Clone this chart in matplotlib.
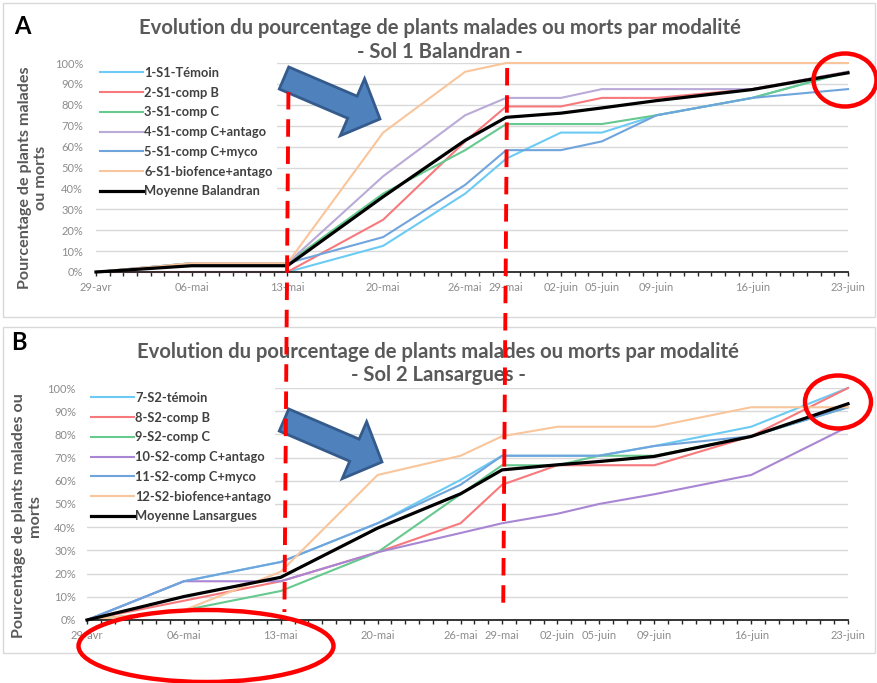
# Evolution du pourcentage de plants malades ou morts - Sol 1 / Sol 2
import matplotlib
matplotlib.use('Agg')
import matplotlib.pyplot as plt
import matplotlib.dates as mdates
from matplotlib.patches import FancyArrow, Ellipse, Rectangle
from matplotlib.ticker import PercentFormatter
import pandas as pd

dates = pd.to_datetime(['2019-04-29', '2019-05-06', '2019-05-13', '2019-05-20', '2019-05-26',
                        '2019-05-29', '2019-06-02', '2019-06-05', '2019-06-09', '2019-06-16',
                        '2019-06-23'])
date_labels = ['29-avr', '06-mai', '13-mai', '20-mai', '26-mai', '29-mai',
               '02-juin', '05-juin', '09-juin', '16-juin', '23-juin']

# Sol 1 Balandran (%)
s1_temoin = [0, 0, 0, 12.5, 37.5, 54.2, 66.7, 66.7, 75, 83.3, 95.8]
s1_compB = [0, 0, 0, 25, 62.5, 79.2, 79.2, 83.3, 83.3, 87.5, 95.8]
s1_compC = [0, 4.2, 4.2, 37.5, 58.3, 70.8, 70.8, 70.8, 75, 83.3, 95.8]
s1_antago = [0, 4.2, 4.2, 45.8, 75, 83.3, 83.3, 87.5, 87.5, 87.5, 95.8]
s1_myco = [0, 4.2, 4.2, 16.7, 41.7, 58.3, 58.3, 62.5, 75, 83.3, 87.5]
s1_biofence = [0, 4.2, 4.2, 66.7, 95.8, 100, 100, 100, 100, 100, 100]
s1_moyenne = [0, 3, 3, 36, 63, 74, 76, 78.5, 82, 87.3, 95.3]

# Sol 2 Lansargues (%)
s2_temoin = [0, 16.7, 25, 41.7, 60.4, 70.8, 70.8, 70.8, 75, 83.3, 100]
s2_compB = [0, 8.3, 16.7, 29.2, 41.7, 58.3, 66.7, 66.7, 66.7, 79.2, 100]
s2_compC = [0, 4.2, 12.5, 29.2, 54.2, 66.7, 66.7, 70.8, 70.8, 79.2, 91.7]
s2_antago = [0, 16.7, 16.7, 29.2, 37.5, 41.7, 45.8, 50, 54.2, 62.5, 83.3]
s2_myco = [0, 16.7, 25, 41.7, 58.3, 70.8, 70.8, 70.8, 75, 79.2, 91.7]
s2_biofence = [0, 4.2, 20.8, 62.5, 70.8, 79.2, 83.3, 83.3, 83.3, 91.7, 91.7]
s2_moyenne = [0, 10.1, 18.4, 39.6, 54.4, 64.7, 66.9, 68.3, 70.5, 79.1, 93.2]

W, H = 877, 683
fig = plt.figure(figsize=(W / 100, H / 100), dpi=100)
plt.rcParams['font.family'] = ['Lato', 'DejaVu Sans']


def box(l, t, r, b):
    return [l / W, 1 - b / H, (r - l) / W, (b - t) / H]


def px(x, y):
    return x / W, 1 - y / H


def draw_panel(ax, series, labels, colors, ypad):
    for vals, lab, col in zip(series, labels, colors):
        lw = 2.3 if col == 'black' else 1.5
        ax.plot(dates, vals, color=col, lw=lw, label=lab, clip_on=False,
                zorder=3 if col == 'black' else 2)
    ax.set_xlim(dates[0], dates[-1])
    ax.set_ylim(0, 100)
    ax.set_yticks(range(0, 101, 10))
    ax.yaxis.set_major_formatter(PercentFormatter(decimals=0))
    ax.grid(axis='y', color='#d9d9d9', lw=1)
    ax.set_axisbelow(True)
    for s in ['top', 'right', 'left']:
        ax.spines[s].set_visible(False)
    ax.spines['bottom'].set_color('#262626')
    ax.spines['bottom'].set_linewidth(1.3)
    ax.set_xticks(dates)
    ax.set_xticklabels(date_labels)
    ax.xaxis.set_minor_locator(mdates.DayLocator())
    ax.tick_params(axis='x', which='both', direction='out', length=3, width=1,
                   color='#262626', labelsize=8, labelcolor='#8c8c8c', pad=4)
    ax.tick_params(axis='y', length=0, labelsize=8, labelcolor='#8c8c8c', pad=ypad)
    leg = ax.legend(loc='upper left', bbox_to_anchor=(0, 1), borderaxespad=0,
                    borderpad=0.3, fontsize=9.3, handlelength=3.3, handletextpad=0.15,
                    labelspacing=0.6, frameon=True, fancybox=False, framealpha=1)
    leg.get_frame().set_edgecolor('none')
    for t in leg.get_texts():
        t.set_color('#404040')
        t.set_fontweight('bold')


colors_a = ['#6ccbf3', '#f8797c', '#66c98e', '#b9aad8', '#6fa5dc', '#f9c59b', 'black']
colors_b = ['#6ccbf3', '#f8797c', '#66c98e', '#a986d4', '#6fa5dc', '#f9c59b', 'black']
labels_a = ['1-S1-Témoin', '2-S1-comp B', '3-S1-comp C', '4-S1-comp C+antago',
            '5-S1-comp C+myco', '6-S1-biofence+antago', 'Moyenne Balandran']
labels_b = ['7-S2-témoin', '8-S2-comp B', '9-S2-comp C', '10-S2-comp C+antago',
            '11-S2-comp C+myco', '12-S2-biofence+antago', 'Moyenne Lansargues']

axA = fig.add_axes(box(96, 63, 848, 272))
draw_panel(axA, [s1_temoin, s1_compB, s1_compC, s1_antago, s1_myco, s1_biofence, s1_moyenne],
           labels_a, colors_a, 9.4)
axB = fig.add_axes(box(87, 388, 848, 620))
draw_panel(axB, [s2_temoin, s2_compB, s2_compC, s2_antago, s2_myco, s2_biofence, s2_moyenne],
           labels_b, colors_b, 8)

# panel frames
for l, t, r, b in [(3, 3, 875, 317), (3, 327, 875, 653)]:
    fig.patches.append(Rectangle(px(l, b), (r - l) / W, (b - t) / H, transform=fig.transFigure,
                                 fill=False, edgecolor='#d9d9d9', lw=1))

# titles and labels
title_kw = dict(ha='center', va='center', fontsize=14.6, fontweight='bold', color='#595959')
fig.text(*px(440, 28), 'Evolution du pourcentage de plants malades ou morts par modalité', **title_kw)
fig.text(*px(440, 52), '- Sol 1 Balandran -', **title_kw)
fig.text(*px(438, 352), 'Evolution du pourcentage de plants malades ou morts par modalité', **title_kw)
fig.text(*px(438, 375), '- Sol 2 Lansargues -', **title_kw)
fig.text(*px(22, 26), 'A', ha='center', va='center', fontsize=17, fontweight='bold', color='black')
fig.text(*px(19, 342), 'B', ha='center', va='center', fontsize=17, fontweight='bold', color='black')
ylab_kw = dict(ha='center', va='center', rotation=90, fontsize=11.6, fontweight='bold',
               color='#595959', multialignment='center', linespacing=1.1)
fig.text(*px(33, 178), 'Pourcentage de plants malades\nou morts', **ylab_kw)
fig.text(*px(27, 516), 'Pourcentage de plants malades ou\nmorts', **ylab_kw)

# annotation overlay (pixel coordinates)
ov = fig.add_axes([0, 0, 1, 1], zorder=10)
ov.set_xlim(0, W)
ov.set_ylim(H, 0)
ov.axis('off')
ov.patch.set_alpha(0)

for d, top in [(dates[2], 92), (dates[5], 68)]:
    x = axA.transData.transform((mdates.date2num(d), 0))[0]
    ov.plot([x + 1, x - 3], [top, 612], color='#ff0000', lw=2.8, dashes=(4.5, 2.5))

for tail, tip in [((284, 78), (380, 119)), ((284, 420), (382, 462))]:
    ov.add_patch(FancyArrow(tail[0], tail[1], tip[0] - tail[0], tip[1] - tail[1], width=24,
                            head_width=62, head_length=30, length_includes_head=True,
                            facecolor='#4f81bd', edgecolor='#345b8c', lw=2))

for c, w, h in [((845, 80), 63, 53), ((838, 402), 66, 53), ((206, 646), 255, 72)]:
    ov.add_patch(Ellipse(c, w, h, fill=False, edgecolor='#ff0000', lw=3.2))

fig.savefig('out.png', dpi=100)
